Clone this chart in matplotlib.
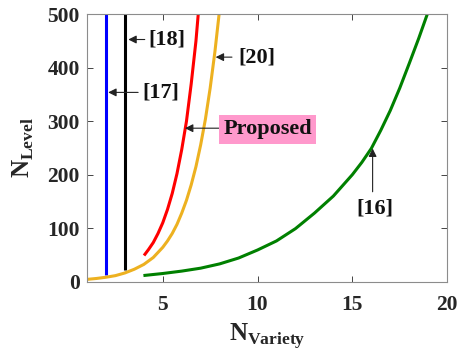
import matplotlib
matplotlib.use("Agg")
import matplotlib.pyplot as plt

plt.rcParams['font.family'] = 'Liberation Serif'
plt.rcParams['font.weight'] = 'bold'
plt.rcParams['mathtext.fontset'] = 'custom'
plt.rcParams['mathtext.rm'] = 'Liberation Serif:bold'
plt.rcParams['mathtext.bf'] = 'Liberation Serif:bold'

AX_COLOR = '#262626'

# data
ref17_x = [2, 2]
ref17_y = [13, 500]

ref18_x = [3, 3]
ref18_y = [21, 500]

ref20_x = [1, 1.5, 2, 2.5, 3, 3.5, 4, 4.5, 5, 5.25, 5.5, 5.75, 6, 6.25, 6.5,
           6.75, 7, 7.25, 7.5, 7.75, 7.97]
ref20_y = [4, 5.7, 8, 11, 16, 23, 32, 45, 64, 76, 90, 107, 128, 152, 181,
           215, 256, 304, 362, 430, 500]

proposed_x = [4.06, 4.25, 4.5, 4.75, 5, 5.25, 5.5, 5.75, 6, 6.25, 6.5, 6.75, 6.87]
proposed_y = [51, 60, 73, 90, 110, 135, 165, 202, 247, 300, 370, 450, 500]

ref16_x = [4.06, 5, 6, 7, 8, 9, 10, 11, 12, 13, 14, 15, 15.5, 16, 16.5, 17,
           17.5, 18, 18.5, 18.95]
ref16_y = [11.5, 15, 19.5, 25, 33, 44, 59, 76, 99, 128, 160, 200, 223, 249,
           283, 320, 362, 408, 455, 500]

fig = plt.figure(figsize=(4.6, 3.6), dpi=100)
ax = fig.add_axes([0.189, 0.218, 0.783, 0.742])

lw = 2.2
ax.plot(ref17_x, ref17_y, color='#0000ff', lw=lw, solid_capstyle='butt')
ax.plot(ref18_x, ref18_y, color='#000000', lw=lw, solid_capstyle='butt')
ax.plot(ref20_x, ref20_y, color='#edb120', lw=lw)
ax.plot(proposed_x, proposed_y, color='#ff0000', lw=lw)
ax.plot(ref16_x, ref16_y, color='#008000', lw=lw)

ax.set_xlim(1, 20)
ax.set_ylim(0, 500)
ax.set_xticks([5, 10, 15, 20])
ax.set_yticks([0, 100, 200, 300, 400, 500])

ax.tick_params(direction='in', length=4, width=0.6, colors=AX_COLOR,
               top=True, right=True, labelsize=15.5)
ax.tick_params(axis='x', pad=10)
ax.tick_params(axis='y', pad=5)
for lab in ax.get_xticklabels() + ax.get_yticklabels():
    lab.set_fontweight('bold')
for sp in ax.spines.values():
    sp.set_color('#8c8c8c')
    sp.set_linewidth(0.8)

ax.set_xlabel(r'$\mathbf{N}_{\mathbf{Variety}}$', fontsize=18, color=AX_COLOR, labelpad=4)
ax.set_ylabel(r'$\mathbf{N}_{\mathbf{Level}}$', fontsize=18, color=AX_COLOR, labelpad=8)

arrow = dict(arrowstyle='-|>', color='#222222', lw=0.8, mutation_scale=12, shrinkA=0, shrinkB=0)
tfs = 16

ax.annotate('', xy=(3.18, 453), xytext=(4.05, 453), arrowprops=arrow)
ax.text(4.25, 453, '[18]', fontsize=tfs, fontweight='bold', va='center', ha='left', color='#111111')

ax.annotate('', xy=(2.12, 354), xytext=(3.7, 354), arrowprops=arrow)
ax.text(3.9, 354, '[17]', fontsize=tfs, fontweight='bold', va='center', ha='left', color='#111111')

ax.annotate('', xy=(7.79, 420), xytext=(8.65, 420), arrowprops=arrow)
ax.text(9.0, 420, '[20]', fontsize=tfs, fontweight='bold', va='center', ha='left', color='#111111')

ax.annotate('', xy=(6.17, 287), xytext=(8.05, 287), arrowprops=arrow)
ax.text(8.2, 285, 'Proposed', fontsize=tfs, fontweight='bold', va='center', ha='left', color='#111111',
        bbox=dict(boxstyle='square,pad=0.2', fc='#ff99cc', ec='none'))

ax.annotate('', xy=(16.07, 249), xytext=(16.07, 168), arrowprops=arrow)
ax.text(16.2, 137, '[16]', fontsize=tfs, fontweight='bold', va='center', ha='center', color='#111111')

fig.savefig('out.png', dpi=100)
